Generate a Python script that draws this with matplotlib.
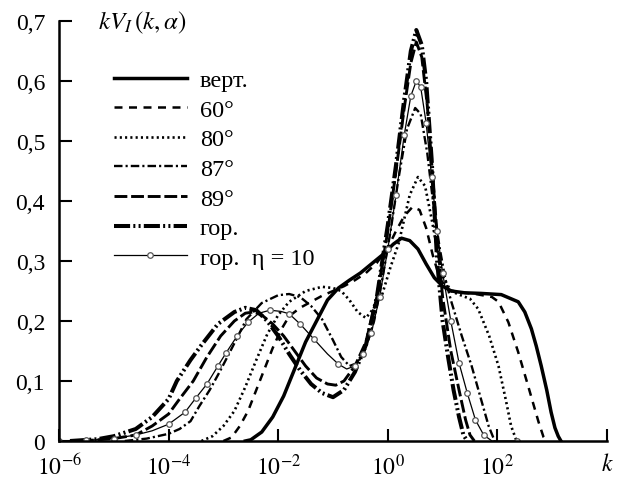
import matplotlib
matplotlib.use('Agg')
import matplotlib.pyplot as plt
import numpy as np

# config font
plt.rcParams['font.family'] = ['Liberation Serif', 'DejaVu Serif']
plt.rcParams['mathtext.fontset'] = 'stix'
plt.rcParams['font.size'] = 17

# data: log10(k) and kV_I(k, alpha)
vert_lgk = [-2.6, -2.5, -2.3, -2.1, -1.9, -1.7, -1.5, -1.3, -1.1, -0.9, -0.7, -0.5, -0.3, -0.1,
            0.1, 0.25, 0.4, 0.55, 0.7, 0.85, 1.0, 1.16, 1.4, 1.7, 2.07, 2.38, 2.5, 2.62, 2.71,
            2.8, 2.9, 2.98, 3.05, 3.11, 3.16]
vert_val = [0.0, 0.002, 0.015, 0.04, 0.075, 0.12, 0.165, 0.2, 0.235, 0.255, 0.268, 0.28, 0.295,
            0.31, 0.328, 0.338, 0.334, 0.32, 0.295, 0.272, 0.258, 0.25, 0.247, 0.246, 0.244,
            0.232, 0.215, 0.187, 0.158, 0.125, 0.085, 0.048, 0.022, 0.008, 0.0]

deg60_lgk = [-3.0, -2.85, -2.7, -2.55, -2.4, -2.25, -2.1, -1.95, -1.8, -1.6, -1.4, -1.2, -1.0,
             -0.8, -0.6, -0.4, -0.2, 0.0, 0.15, 0.3, 0.45, 0.58, 0.7, 0.82, 0.95, 1.1, 1.3, 1.6,
             1.9, 2.02, 2.2, 2.38, 2.56, 2.75, 2.84, 2.9]
deg60_val = [0.0, 0.006, 0.025, 0.05, 0.085, 0.12, 0.155, 0.185, 0.208, 0.222, 0.232, 0.242, 0.25,
             0.258, 0.268, 0.28, 0.297, 0.322, 0.35, 0.375, 0.39, 0.385, 0.355, 0.31, 0.27, 0.252,
             0.248, 0.245, 0.24, 0.232, 0.198, 0.148, 0.092, 0.032, 0.007, 0.0]

deg80_lgk = [-3.4, -3.2, -3.0, -2.8, -2.6, -2.4, -2.2, -2.0, -1.8, -1.5, -1.2, -1.0, -0.85, -0.7,
             -0.55, -0.4, -0.25, -0.1, 0.05, 0.2, 0.3, 0.4, 0.55, 0.68, 0.8, 0.9, 1.0, 1.15, 1.3,
             1.5, 1.65, 1.85, 2.02, 2.15, 2.25, 2.35]
deg80_val = [0.0, 0.008, 0.025, 0.05, 0.09, 0.135, 0.178, 0.21, 0.232, 0.25, 0.257, 0.255, 0.25,
             0.235, 0.215, 0.205, 0.222, 0.245, 0.29, 0.33, 0.37, 0.41, 0.44, 0.425, 0.37, 0.32,
             0.275, 0.25, 0.244, 0.237, 0.22, 0.175, 0.125, 0.07, 0.025, 0.0]

deg87_lgk = [-4.8, -4.4, -4.0, -3.8, -3.6, -3.44, -3.25, -3.07, -2.9, -2.76, -2.58, -2.3, -2.0,
             -1.8, -1.6, -1.4, -1.2, -1.0, -0.85, -0.7, -0.55, -0.4, -0.25, -0.1, 0.05, 0.2, 0.35,
             0.5, 0.6, 0.72, 0.85, 0.95, 1.05, 1.15, 1.35, 1.53, 1.7, 1.84, 1.95]
deg87_val = [0.0, 0.004, 0.012, 0.02, 0.033, 0.058, 0.085, 0.115, 0.145, 0.17, 0.203, 0.23, 0.243,
             0.245, 0.24, 0.225, 0.203, 0.168, 0.14, 0.125, 0.13, 0.155, 0.2, 0.27, 0.35, 0.44,
             0.52, 0.555, 0.545, 0.48, 0.38, 0.32, 0.27, 0.235, 0.175, 0.125, 0.07, 0.025, 0.0]

deg89_lgk = [-5.6, -5.0, -4.6, -4.3, -4.0, -3.8, -3.55, -3.3, -3.05, -2.8, -2.6, -2.45, -2.3,
             -2.1, -1.9, -1.7, -1.5, -1.3, -1.1, -0.95, -0.8, -0.6, -0.4, -0.2, 0.0, 0.15, 0.3,
             0.42, 0.52, 0.62, 0.72, 0.82, 0.92, 1.0, 1.15, 1.3, 1.42, 1.5, 1.58]
deg89_val = [0.0, 0.004, 0.01, 0.025, 0.045, 0.07, 0.1, 0.14, 0.175, 0.2, 0.213, 0.215, 0.21,
             0.195, 0.175, 0.15, 0.125, 0.105, 0.095, 0.093, 0.1, 0.125, 0.165, 0.24, 0.35,
             0.45, 0.555, 0.63, 0.665, 0.64, 0.56, 0.44, 0.32, 0.24, 0.15, 0.085, 0.035, 0.01, 0.0]

hor_lgk = [-5.8, -5.3, -5.0, -4.6, -4.3, -4.0, -3.85, -3.6, -3.4, -3.1, -2.8, -2.6, -2.4, -2.2,
           -2.0, -1.8, -1.6, -1.4, -1.2, -1.0, -0.8, -0.6, -0.4, -0.2, 0.0, 0.15, 0.3, 0.42,
           0.52, 0.62, 0.7, 0.8, 0.9, 1.0, 1.1, 1.2, 1.3, 1.38, 1.45]
hor_val = [0.0, 0.003, 0.008, 0.02, 0.04, 0.07, 0.1, 0.135, 0.16, 0.195, 0.215, 0.222, 0.218,
           0.2, 0.175, 0.145, 0.118, 0.095, 0.08, 0.073, 0.085, 0.115, 0.16, 0.24, 0.36, 0.46,
           0.57, 0.65, 0.685, 0.66, 0.6, 0.47, 0.3, 0.2, 0.14, 0.085, 0.04, 0.01, 0.0]

eta_lgk = [-6.0, -5.5, -5.0, -4.6, -4.3, -4.0, -3.7, -3.5, -3.3, -3.1, -2.95, -2.75, -2.55,
           -2.35, -2.15, -1.95, -1.8, -1.6, -1.35, -1.1, -0.9, -0.75, -0.6, -0.45, -0.3, -0.15,
           0.0, 0.15, 0.3, 0.42, 0.52, 0.6, 0.7, 0.8, 0.9, 1.0, 1.15, 1.3, 1.45, 1.6, 1.75, 1.9,
           2.35]
eta_val = [0.0, 0.001, 0.004, 0.01, 0.017, 0.028, 0.048, 0.072, 0.095, 0.125, 0.147, 0.175,
           0.198, 0.213, 0.218, 0.216, 0.212, 0.195, 0.17, 0.145, 0.128, 0.12, 0.125, 0.145,
           0.18, 0.24, 0.32, 0.41, 0.51, 0.575, 0.6, 0.59, 0.53, 0.44, 0.35, 0.28, 0.2, 0.13,
           0.08, 0.035, 0.01, 0.0, 0.0]

labels = ['верт.', '60°', '80°', '87°', '89°', 'гор.', 'гор.  η = 10']
yticks = [0, 0.1, 0.2, 0.3, 0.4, 0.5, 0.6, 0.7]
ytick_labels = ['0', '0,1', '0,2', '0,3', '0,4', '0,5', '0,6', '0,7']
xticks = [1e-6, 1e-4, 1e-2, 1e0, 1e2, 1e4]
xtick_labels = [r'$10^{-6}$', r'$10^{-4}$', r'$10^{-2}$', r'$10^{0}$', r'$10^{2}$', r'$k$']

# config size figure
my_dpi = 100
fig = plt.figure(figsize=(627/my_dpi, 481/my_dpi), dpi=my_dpi)
ax = fig.add_axes([59/627, 39/481, 548/627, 420/481])

k = lambda lg: 10.0 ** np.array(lg)

ax.plot(k(vert_lgk), vert_val, color='black', lw=2.5, label=labels[0])
ax.plot(k(deg60_lgk), deg60_val, color='black', lw=1.8, dashes=(3.2, 2.6), label=labels[1])
ax.plot(k(deg80_lgk), deg80_val, color='black', lw=1.9, dashes=(0.8, 1.2), label=labels[2])
ax.plot(k(deg87_lgk), deg87_val, color='black', lw=1.7, dashes=(3.6, 1.3, 0.9, 1.3), label=labels[3])
ax.plot(k(deg89_lgk), deg89_val, color='black', lw=2.1, dashes=(4.4, 1.3), label=labels[4])
ax.plot(k(hor_lgk), hor_val, color='black', lw=2.9,
        dashes=(4.0, 0.8, 0.5, 0.8, 0.5, 0.8), label=labels[5])
ax.plot(k(eta_lgk), eta_val, color='black', lw=0.9, marker='o', ms=4,
        mfc='white', mec='#555555', mew=0.9, markevery=0.03, label=labels[6])

ax.set_xscale('log')
ax.set_xlim(1e-6, 1e4)
ax.set_ylim(0, 0.7)

ax.set_yticks(yticks)
ax.set_yticklabels(ytick_labels)
ax.set_xticks(xticks)
ax.set_xticklabels(xtick_labels)
ax.minorticks_off()
ax.tick_params(axis='both', direction='in', length=9, width=1.5, colors='black', labelsize=17)
ax.tick_params(axis='y', pad=10)
ax.tick_params(axis='x', pad=9)

for side in ['top', 'right']:
    ax.spines[side].set_visible(False)
for side in ['left', 'bottom']:
    ax.spines[side].set_linewidth(1.8)

ax.text(0.072, 0.997, r'$kV_I\,(k,\alpha)$', transform=ax.transAxes, ha='left', va='center',
        fontsize=18)

ax.legend(loc='upper left', bbox_to_anchor=(0.1, 0.885), frameon=False, handlelength=3.0,
          handletextpad=0.55, labelspacing=0.31, borderpad=0, borderaxespad=0, fontsize=17.5)

plt.savefig('out.png', dpi=my_dpi)
